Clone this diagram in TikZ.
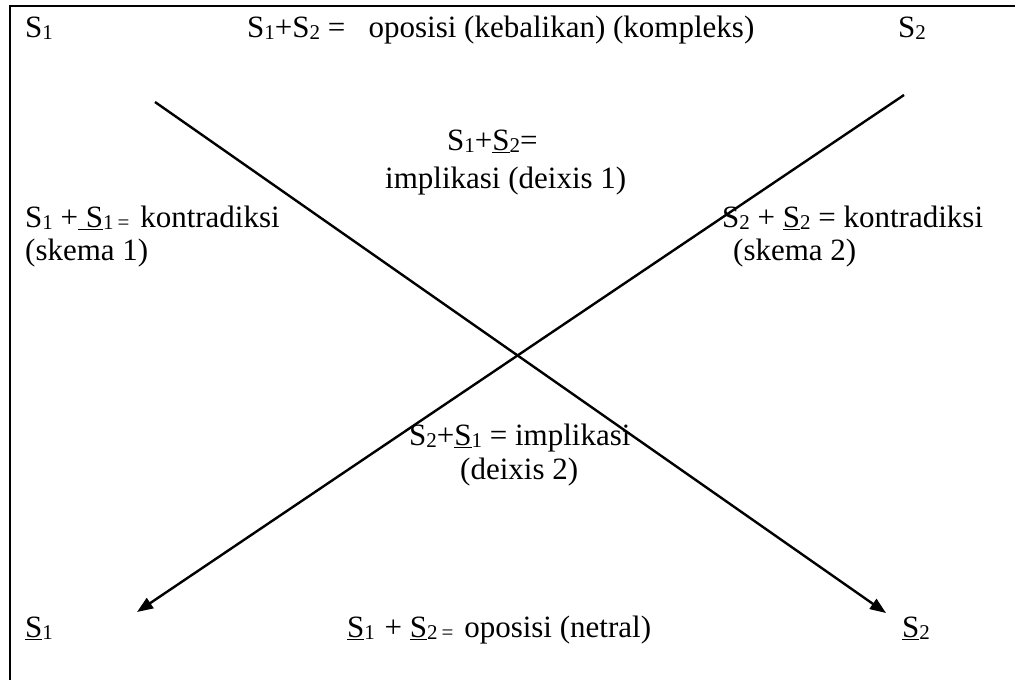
\documentclass[tikz,border=0pt]{standalone}
\usepackage{fontspec}
\setmainfont{Liberation Serif}
\usetikzlibrary{arrows.meta}
\newcommand{\sbs}[1]{\raisebox{-2.5pt}{\fontsize{21}{21}\selectfont #1}}
\newcommand{\us}{\underline{S}}
\tikzset{
  lbl/.style={anchor=base west, inner sep=0pt, font=\fontsize{31}{36}\selectfont},
  frameline/.style={line width=2.6pt},
  xline/.style={line width=2.4pt, -{Triangle[length=16pt,width=12pt]}}
}
\begin{document}
\begin{tikzpicture}[x=1pt,y=-1pt]
\useasboundingbox (0,0) rectangle (1015,680);
% frame (top and left edges visible)
\draw[frameline] (1015,6) -- (10,6) -- (10,680);
% line end points
\coordinate (a1) at (155,102);
\coordinate (a2) at (886,613);
\coordinate (b1) at (904,95);
\coordinate (b2) at (137,612);
\draw[xline] (a1) -- (a2);
\draw[xline] (b1) -- (b2);
% labels
\node[lbl] (tl) at (25,37) {S\sbs{1}};
\node[lbl] (tc) at (247,37) {S\sbs{1}+S\sbs{2} =\ \ \ oposisi (kebalikan) (kompleks)};
\node[lbl] (tr) at (898,37) {S\sbs{2}};
\node[lbl] (c1) at (447,150) {S\sbs{1}+\us\sbs{2}=};
\node[lbl] (c2) at (385,188) {implikasi (deixis 1)};
\node[lbl] (l1) at (25,227) {S\sbs{1} +\underline{\ S}\sbs{1}\hspace{4pt}\sbs{=}\hspace{3pt} kontradiksi};
\node[lbl] (l2) at (25,260) {(skema 1)};
\node[lbl] (r1) at (722,227) {S\sbs{2} + \us\sbs{2} = kontradiksi};
\node[lbl] (r2) at (733,260) {(skema 2)};
\node[lbl] (m1) at (409,445) {S\sbs{2}+\us\sbs{1} = implikasi};
\node[lbl] (m2) at (460,479) {(deixis 2)};
\node[lbl] (bl) at (25,637) {\us\sbs{1}};
\node[lbl] (bc) at (347,637) {\us\sbs{1}\hspace{2pt} + \us\sbs{2}\hspace{4pt}\sbs{=}\hspace{3pt} oposisi (netral)};
\node[lbl] (br) at (902,637) {\us\sbs{2}};
\end{tikzpicture}
\end{document}
